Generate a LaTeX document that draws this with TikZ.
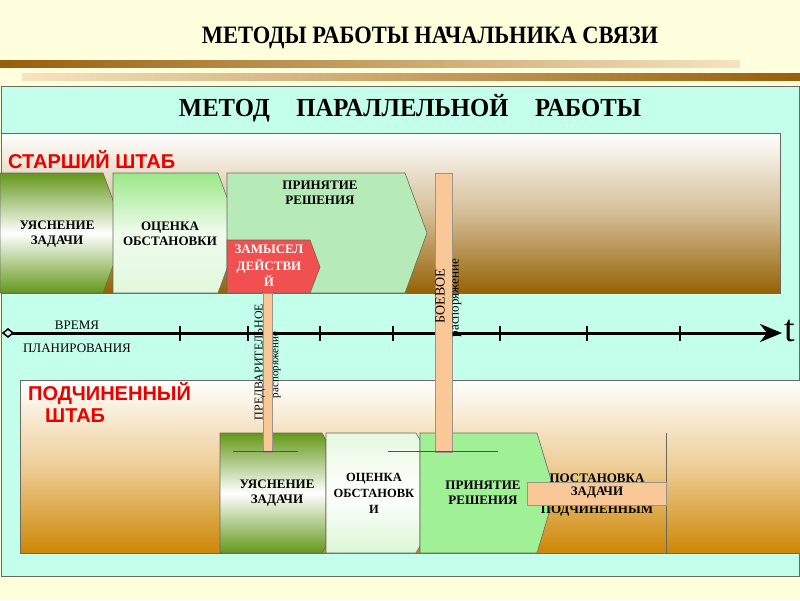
\documentclass[tikz,border=0pt]{standalone}
\usepackage{fontspec}
\setmainfont{Liberation Serif}
\newfontfamily\stafffont{Liberation Sans}
\usetikzlibrary{arrows.meta}

\definecolor{cream}{RGB}{255,255,221}
\definecolor{mint}{RGB}{196,255,236}
\definecolor{barbrown}{RGB}{150,95,10}
\definecolor{barlight}{RGB}{246,228,192}
\definecolor{darkbrown}{RGB}{150,98,5}
\definecolor{tan}{RGB}{212,190,150}
\definecolor{ochre}{RGB}{205,135,5}
\definecolor{lightochre}{RGB}{238,205,150}
\definecolor{olive}{RGB}{100,152,25}
\definecolor{palegreen}{RGB}{155,232,135}
\definecolor{leafgreen}{RGB}{182,234,182}
\definecolor{brightgreen}{RGB}{160,240,150}
\definecolor{redbox}{RGB}{240,80,80}
\definecolor{peach}{RGB}{250,200,150}
\definecolor{edge}{RGB}{105,105,95}
\definecolor{staffred}{RGB}{235,0,0}

\tikzset{
  boxtext/.style={font=\fontsize{13}{15}\selectfont\bfseries, align=center, inner sep=0pt},
  stafflabel/.style={font=\stafffont\fontsize{20}{22}\selectfont\bfseries, text=staffred, inner sep=0pt, align=left},
  ordertext/.style={font=\fontsize{12}{13}\selectfont, rotate=90, inner sep=0pt},
  orderbar/.style={fill=peach, draw=edge!70},
  stageedge/.style={draw=edge, line width=0.6pt},
  timetick/.style={line width=1.5pt}
}

\begin{document}
\begin{tikzpicture}[x=1pt,y=-1pt]
    %%%%% START %%%%%
    \useasboundingbox (0,0) rectangle (800,600);
    \fill[cream] (0,0) rectangle (800,600);

    \node[font=\fontsize{25}{27}\selectfont\bfseries] (title) at (430,38)
        {\scalebox{0.9}[1]{МЕТОДЫ РАБОТЫ НАЧАЛЬНИКА СВЯЗИ}};
    \shade[left color=barbrown, right color=barlight] (0,60) rectangle (740,67);
    \shade[left color=barlight, right color=barbrown] (22,73) rectangle (800,80);

    % main panel
    \draw[edge, fill=mint] (1,86) rectangle (799,576);
    \node[font=\fontsize{26}{28}\selectfont\bfseries] (method) at (410,108)
        {\scalebox{0.95}[1]{МЕТОД\hspace{28pt}ПАРАЛЛЕЛЬНОЙ\hspace{28pt}РАБОТЫ}};

    % upper staff
    \shadedraw[draw=edge, top color=white, bottom color=darkbrown, middle color=tan] (1,133) rectangle (780,293);
    \node[stafflabel, anchor=west] (senior) at (8,160) {СТАРШИЙ ШТАБ};

    \shadedraw[stageedge, top color=olive, bottom color=olive, middle color=white]
        (0,173) -- (103,173) -- (125,233) -- (103,293) -- (0,293) -- cycle;
    \shadedraw[stageedge, top color=palegreen, bottom color=white!70!palegreen, middle color=white!85!palegreen]
        (113,173) -- (218,173) -- (240,233) -- (218,293) -- (113,293) -- cycle;
    \draw[stageedge, fill=leafgreen] (227,173) -- (405,173) -- (427,233) -- (405,293) -- (227,293) -- cycle;
    \draw[stageedge, fill=redbox] (227,240) -- (310,240) -- (320,267) -- (310,293) -- (227,293) -- cycle;

    \node[boxtext] (task1) at (57,234) {УЯСНЕНИЕ\\ЗАДАЧИ};
    \node[boxtext] (est1) at (170,234) {ОЦЕНКА\\ОБСТАНОВКИ};
    \node[boxtext] (dec1) at (320,193) {ПРИНЯТИЕ\\РЕШЕНИЯ};
    \node[boxtext, text=white, font=\fontsize{13}{16.5}\selectfont\bfseries] (idea) at (269,266) {ЗАМЫСЕЛ\\ДЕЙСТВИ\\Й};

    % time axis
    \draw[line width=3pt, -{Stealth[length=22pt, width=18pt, inset=7pt]}] (8,333) -- (782,333);
    \draw[line width=1.5pt, fill=mint] (3,333) -- (8,329) -- (13,333) -- (8,337) -- cycle;
    \foreach \tx in {180,248,320,393,500,587,680}
        \draw[timetick] (\tx,326) -- (\tx,341);
    \node[font=\fontsize{38}{38}\selectfont] (t) at (790,331) {t};
    \node[font=\fontsize{13}{14}\selectfont] (time) at (77,325) {ВРЕМЯ};
    \node[font=\fontsize{13}{14}\selectfont] (plan) at (77,348) {ПЛАНИРОВАНИЯ};

    % subordinate staff
    \shadedraw[draw=edge, top color=white, bottom color=ochre, middle color=lightochre] (20,380) rectangle (800,553);
    \node[stafflabel, anchor=north west] (junior) at (28,382) {ПОДЧИНЕННЫЙ\\\hspace{17pt}ШТАБ};

    \shadedraw[stageedge, top color=olive, bottom color=olive, middle color=white]
        (220,433) -- (322,433) -- (326,440) -- (326,546) -- (322,553) -- (220,553) -- cycle;
    \shadedraw[stageedge, top color=white!75!palegreen, bottom color=white!65!palegreen, middle color=white]
        (326,433) -- (416,433) -- (420,440) -- (420,546) -- (416,553) -- (326,553) -- cycle;
    \draw[stageedge, fill=brightgreen] (420,433) -- (537,433) -- (555,493) -- (537,553) -- (420,553) -- cycle;
    \draw[edge] (666,433) -- (666,553);

    \node[boxtext] (task2) at (277,493) {УЯСНЕНИЕ\\ЗАДАЧИ};
    \node[boxtext, font=\fontsize{12.5}{16}\selectfont\bfseries] (est2) at (374,493) {ОЦЕНКА\\ОБСТАНОВК\\И};
    \node[boxtext] (dec2) at (483,493) {ПРИНЯТИЕ\\РЕШЕНИЯ};
    \node[boxtext] (assign) at (597,478) {ПОСТАНОВКА};
    \node[boxtext] (assign3) at (597,511) {ПОДЧИНЕННЫМ};
    \draw[orderbar] (527,482) rectangle (666,505);
    \node[boxtext] (assign2) at (597,493) {ЗАДАЧИ};

    % orders
    \draw[orderbar] (263,293) rectangle (272,452);
    \draw[edge!80!black] (233,451) -- (298,451);
    \draw[orderbar] (435,173) rectangle (452,452);
    \draw[edge!80!black] (388,451) -- (498,451);

    \node[ordertext] (prelim) at (260,362) {ПРЕДВАРИТЕЛЬНОЕ};
    \node[ordertext, font=\fontsize{11}{12}\selectfont] (prelim2) at (277,365) {распоряжение};
    \node[ordertext, font=\fontsize{14}{15}\selectfont] (combat) at (440,296) {БОЕВОЕ};
    \node[ordertext, font=\fontsize{13}{14}\selectfont] (combat2) at (457,298) {распоряжение};
    %%%%% END %%%%%
\end{tikzpicture}
\end{document}
